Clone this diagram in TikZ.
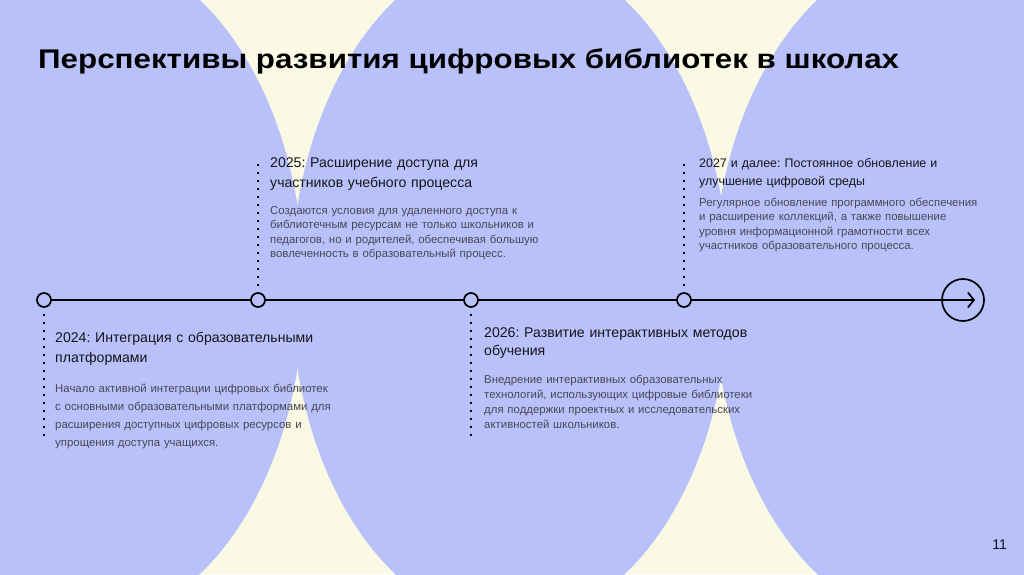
\documentclass[tikz,border=0pt]{standalone}
\usepackage{fontspec}
\setmainfont{Liberation Sans}
\newfontfamily\headfont[FakeStretch=1.16]{Liberation Sans}
\frenchspacing
\usetikzlibrary{arrows.meta}
\definecolor{lav}{RGB}{185,193,251}
\definecolor{cream}{RGB}{250,249,228}
\definecolor{ink}{RGB}{20,20,24}
\definecolor{greytext}{RGB}{72,72,84}
\tikzset{
 dot/.style={circle, draw=black, line width=1.7pt, minimum size=14pt, inner sep=0pt},
 dotline/.style={line width=1.8pt, dash pattern=on 1.8pt off 6.2pt},
 head/.style={anchor=base west, inner sep=0pt, text width=320pt, align=left, text=ink},
 para/.style={anchor=base west, inner sep=0pt, text width=320pt, align=left, text=greytext}
}
\begin{document}
\begin{tikzpicture}[x=1pt,y=-1pt]
\useasboundingbox (0,0) rectangle (1024,574);
\fill[cream] (0,0) rectangle (1024,574);
\begin{scope}
 \clip (0,0) rectangle (1024,574);
 \foreach \cx in {85,510,932}
  \fill[lav] (\cx,287) ellipse [x radius=219pt, y radius=337pt];
\end{scope}
\node[anchor=base west, inner sep=0pt, text=black, font=\headfont\bfseries\fontsize{27}{30}\selectfont] (title) at (38,68) {Перспективы развития цифровых библиотек в школах};
\foreach \x / \n in {44/p1, 258/p2, 471/p3, 684/p4}
 \node[dot] (\n) at (\x,300) {};
\node[circle, draw=black, line width=1.7pt, minimum size=42pt, inner sep=0pt] (goal) at (963,300) {};
\coordinate (tip) at (975,300);
\coordinate (c1) at (44,436);
\coordinate (c2) at (258,160);
\coordinate (c3) at (471,436);
\coordinate (c4) at (684,160);
\draw[line width=1.7pt] (p1) -- (p2) -- (p3) -- (p4);
\draw[line width=1.7pt, -{Straight Barb[length=6pt, width=15pt]}] (p4) -- (tip);
\foreach \n / \m in {p1/c1, p2/c2, p3/c3, p4/c4}
 \draw[dotline, shorten <=6pt] (\n) -- (\m);
\node[head, font=\fontsize{14.1}{20}\selectfont] (t1) at (55,342) {2024: Интеграция с образовательными\\платформами};
\node[para, font=\fontsize{11.4}{18}\selectfont] (b1) at (55,392) {Начало активной интеграции цифровых библиотек\\с основными образовательными платформами для\\расширения доступных цифровых ресурсов и\\упрощения доступа учащихся.};
\node[head, font=\fontsize{14.1}{20}\selectfont] (t2) at (270,167) {2025: Расширение доступа для\\участников учебного процесса};
\node[para, font=\fontsize{11.4}{14.5}\selectfont] (b2) at (270,214) {Создаются условия для удаленного доступа к\\библиотечным ресурсам не только школьников и\\педагогов, но и родителей, обеспечивая большую\\вовлеченность в образовательный процесс.};
\node[head, font=\fontsize{14.1}{18}\selectfont] (t3) at (484,337) {2026: Развитие интерактивных методов\\обучения};
\node[para, font=\fontsize{11.4}{15}\selectfont] (b3) at (484,383) {Внедрение интерактивных образовательных\\технологий, использующих цифровые библиотеки\\для поддержки проектных и исследовательских\\активностей школьников.};
\node[head, font=\fontsize{12.4}{18}\selectfont] (t4) at (699,167) {2027 и далее: Постоянное обновление и\\улучшение цифровой среды};
\node[para, font=\fontsize{11.4}{14.5}\selectfont] (b4) at (699,206) {Регулярное обновление программного обеспечения\\и расширение коллекций, а также повышение\\уровня информационной грамотности всех\\участников образовательного процесса.};
\node[anchor=base east, inner sep=0pt, text=ink, font=\fontsize{14}{16}\selectfont] (page) at (1007,549) {11};
\end{tikzpicture}
\end{document}
